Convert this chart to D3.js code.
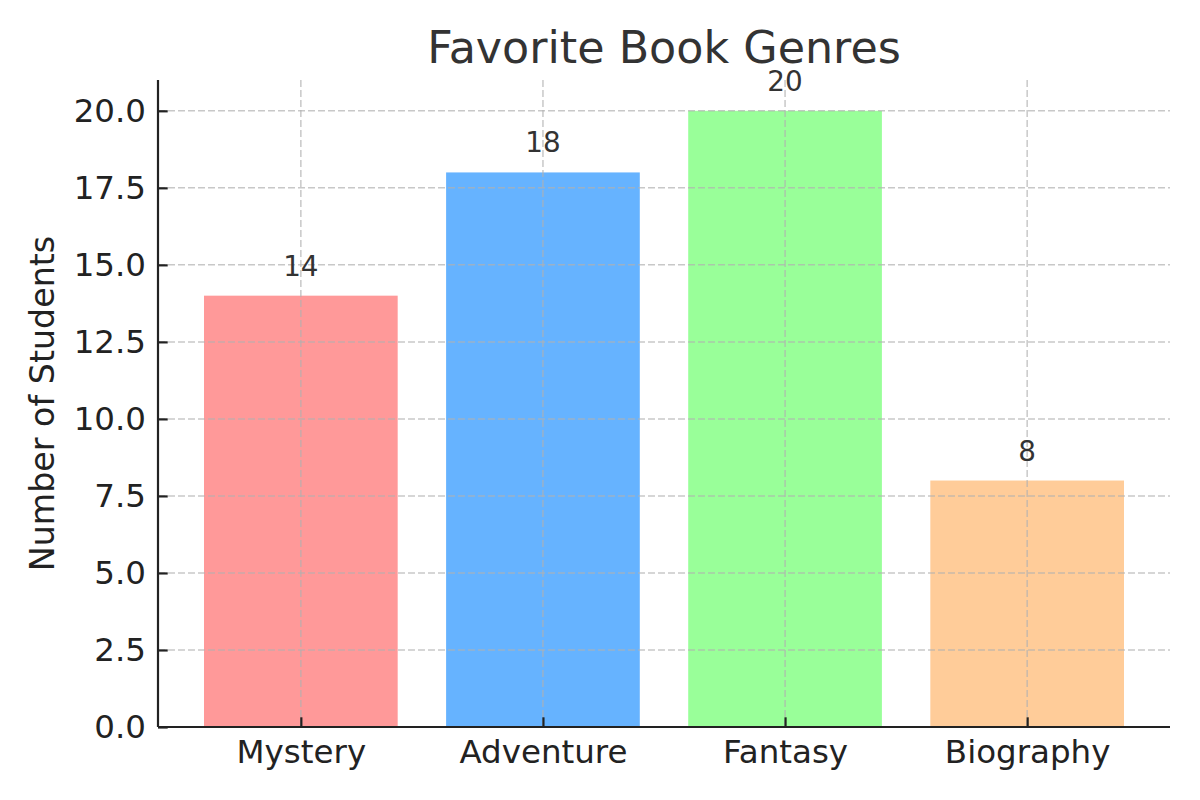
<!DOCTYPE html>
<html>
<head>
<meta charset="utf-8">
<script src="https://cdn.jsdelivr.net/npm/d3@7"></script>
<style>
  body { margin: 0; background: #fff; }
  svg { display: block; font-family: "DejaVu Sans", sans-serif; }
</style>
</head>
<body>
<div id="app"></div>
<script>
(function (d3) {
  'use strict'

  // chart data
  const genres = ['Mystery', 'Adventure', 'Fantasy', 'Biography']
  const students = [14, 18, 20, 8]
  const barColors = ['#ff9999', '#66b3ff', '#99ff99', '#ffcc99']
  const yTicks = [0, 2.5, 5, 7.5, 10, 12.5, 15, 17.5, 20]

  const width = 1200
  const height = 800
  const margin = { top: 80, right: 30, bottom: 73, left: 158 }
  const w = width - margin.left - margin.right
  const h = height - margin.top - margin.bottom

  const svg = d3.select('#app').append('svg')
    .attr('width', width)
    .attr('height', height)

  const g = svg.append('g')
    .attr('transform', 'translate(' + margin.left + ',' + margin.top + ')')

  // x as a linear scale over category index, like matplotlib's bar positions
  const xScale = d3.scaleLinear()
    .domain([-0.59, genres.length - 1 + 0.59])
    .range([0, w])
  const barW = xScale(0.8) - xScale(0)

  const yScale = d3.scaleLinear()
    .domain([0, 21])
    .range([h, 0])

  // bars
  g.selectAll('rect.bar')
    .data(students)
    .enter()
    .append('rect')
    .attr('class', 'bar')
    .attr('x', function (d, i) { return xScale(i) - barW / 2 })
    .attr('y', function (d) { return yScale(d) })
    .attr('width', barW)
    .attr('height', function (d) { return h - yScale(d) })
    .style('fill', function (d, i) { return barColors[i] })

  // grid on top of bars
  const grid = g.append('g').attr('class', 'grid')
  grid.selectAll('line.hgrid')
    .data(yTicks)
    .enter()
    .append('line')
    .attr('x1', 0)
    .attr('x2', w)
    .attr('y1', function (d) { return yScale(d) })
    .attr('y2', function (d) { return yScale(d) })
  grid.selectAll('line.vgrid')
    .data(genres)
    .enter()
    .append('line')
    .attr('x1', function (d, i) { return xScale(i) })
    .attr('x2', function (d, i) { return xScale(i) })
    .attr('y1', 0)
    .attr('y2', h)
  grid.selectAll('line')
    .style('stroke', '#b0b0b0')
    .style('stroke-opacity', 0.7)
    .style('stroke-width', 1.5)
    .style('stroke-dasharray', '7,3')

  // value labels
  g.selectAll('text.value')
    .data(students)
    .enter()
    .append('text')
    .attr('class', 'value')
    .attr('x', function (d, i) { return xScale(i) })
    .attr('y', function (d) { return yScale(d) - 20 })
    .attr('text-anchor', 'middle')
    .style('font-size', '27.8px')
    .style('fill', '#333')
    .text(function (d) { return d })

  // axes
  const yAxis = d3.axisLeft(yScale)
    .tickValues(yTicks)
    .tickFormat(d3.format('.1f'))
    .tickSizeInner(-9.7)
    .tickSizeOuter(0)
    .tickPadding(12)
  const yG = g.append('g').call(yAxis)

  const xAxis = d3.axisBottom(xScale)
    .tickValues(d3.range(genres.length))
    .tickFormat(function (i) { return genres[i] })
    .tickSizeInner(-9.7)
    .tickSizeOuter(0)
    .tickPadding(13)
  const xG = g.append('g')
    .attr('transform', 'translate(0,' + h + ')')
    .call(xAxis)

  ;[xG, yG].forEach(function (ax) {
    ax.select('.domain').style('stroke', '#222').style('stroke-width', 2.2)
    ax.selectAll('.tick line').style('stroke', '#222').style('stroke-width', 2.2)
    ax.selectAll('.tick text')
      .style('font-size', '32.5px')
      .style('fill', '#222')
      .style('font-family', '"DejaVu Sans", sans-serif')
  })
  // left spine reaches top of plot
  yG.select('.domain').attr('d', 'M0,0V' + h)
  xG.select('.domain').attr('d', 'M0,0H' + w)

  // title and axis label
  svg.append('text')
    .attr('x', margin.left + w / 2)
    .attr('y', 63)
    .attr('text-anchor', 'middle')
    .style('font-size', '44.4px')
    .style('fill', '#333')
    .text('Favorite Book Genres')

  svg.append('text')
    .attr('transform', 'translate(54,' + (margin.top + h / 2) + ') rotate(-90)')
    .attr('text-anchor', 'middle')
    .style('font-size', '33.3px')
    .style('fill', '#222')
    .text('Number of Students')

})(d3)
</script>
</body>
</html>
